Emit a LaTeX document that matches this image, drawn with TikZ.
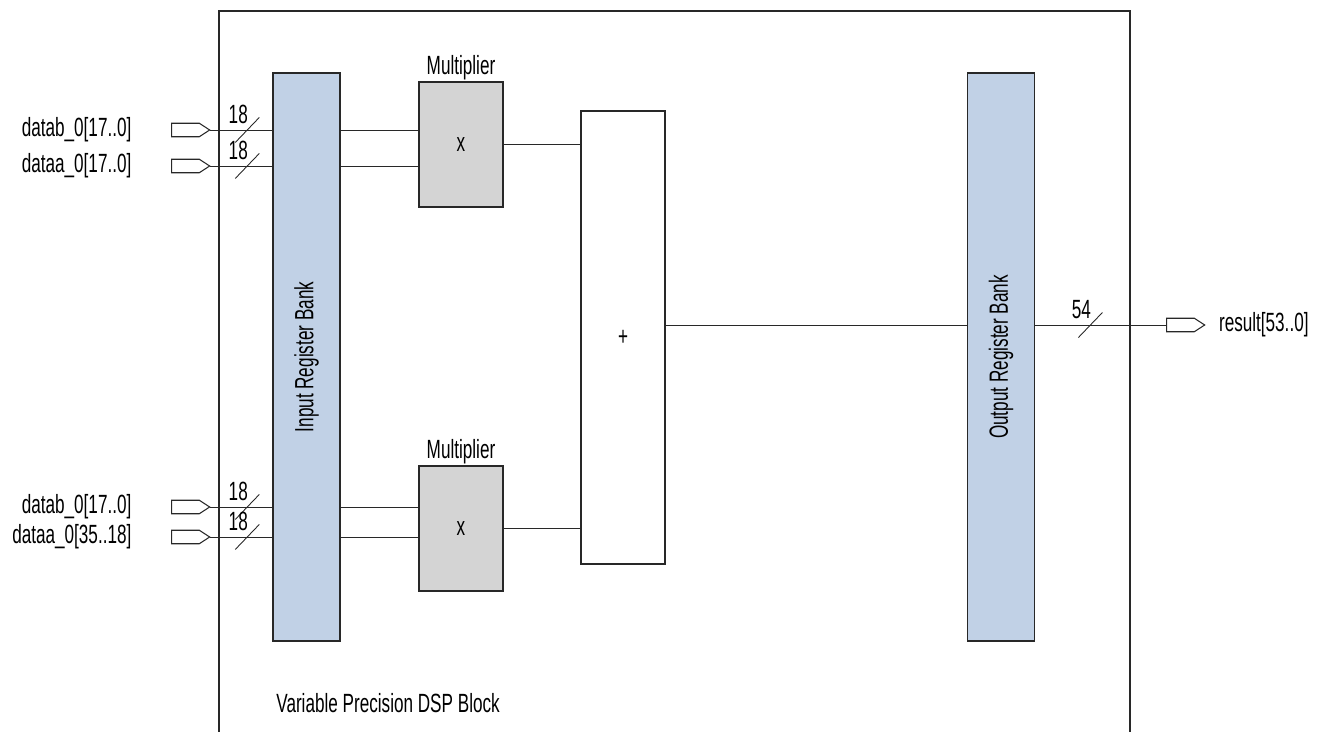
\documentclass[tikz,border=0pt]{standalone}
\usepackage{fontspec}
\setmainfont[FakeStretch=0.65]{Liberation Sans}
\usetikzlibrary{positioning,shapes.symbols}

\definecolor{bankblue}{RGB}{193,209,230}
\definecolor{mulgray}{RGB}{212,212,212}
\definecolor{linegray}{RGB}{40,40,40}

\begin{document}
\begin{tikzpicture}[
    x=0.02cm, y=-0.02cm,
    font=\fontsize{15}{17}\selectfont,
    bank/.style={draw=linegray, line width=0.8pt, fill=bankblue, minimum width=1.34cm, minimum height=11.36cm, inner sep=0pt},
    mul/.style={draw=linegray, line width=0.8pt, fill=mulgray, minimum width=1.68cm, minimum height=2.5cm, inner sep=0pt},
    adder/.style={draw=linegray, line width=0.8pt, fill=white, minimum width=1.68cm, minimum height=9.06cm, inner sep=0pt},
    pin/.style={draw=linegray, line width=0.6pt, signal, signal to=east, signal pointer angle=66, minimum width=0.76cm, minimum height=0.27cm, inner sep=0pt, outer sep=0pt},
    lbl/.style={inner sep=0pt},
    wire/.style={draw=linegray, line width=0.5pt},
    pics/bus/.style={code={
      \draw[wire] (-12,12.5) -- (12,-12.5);
      \node[lbl, anchor=base] at (-9,-6) {#1};
    }}
  ]
    \useasboundingbox (0,0) rectangle (1320,732);
    % block frame, open at the bottom
    \draw[draw=linegray, line width=0.8pt] (219,732) |- (1130,11) -- (1130,732);
    \node[lbl, anchor=west] (title) at (276,703) {Variable Precision DSP Block};

    % register banks, multipliers and adder
    \node[bank] (inb) at (306.5,357) {\rotatebox{90}{Input Register Bank}};
    \node[bank] (outb) at (1001,357) {\rotatebox{90}{Output Register Bank}};
    \node[mul] (m1) at (461,144.5) {x};
    \node[mul] (m2) at (461,528.5) {x};
    \node[lbl, above=0.02cm of m1] {Multiplier};
    \node[lbl, above=0.02cm of m2] {Multiplier};
    \node[adder] (add) at (623,337.5) {+};

    % input pins
    \node[pin] (pb1) at (185.5,130) {};
    \node[pin] (pa1) at (185.5,166) {};
    \node[pin] (pb2) at (185.5,507) {};
    \node[pin] (pa2) at (185.5,537) {};
    \node[lbl, left=0.8cm of pb1] {datab\_0[17..0]};
    \node[lbl, left=0.8cm of pa1] {dataa\_0[17..0]};
    \node[lbl, left=0.8cm of pb2] {datab\_0[17..0]};
    \node[lbl, left=0.8cm of pa2] {dataa\_0[35..18]};

    % output pin
    \node[pin] (pout) at (1180.5,325) {};
    \node[lbl, right=0.28cm of pout] {result[53..0]};

    % buses into the input bank
    \draw[wire] (pb1.east) -- coordinate[pos=0.6] (s1) (inb.west |- pb1);
    \draw[wire] (pa1.east) -- coordinate[pos=0.6] (s2) (inb.west |- pa1);
    \draw[wire] (pb2.east) -- coordinate[pos=0.6] (s3) (inb.west |- pb2);
    \draw[wire] (pa2.east) -- coordinate[pos=0.6] (s4) (inb.west |- pa2);
    \pic at (s1) {bus=18};
    \pic at (s2) {bus=18};
    \pic at (s3) {bus=18};
    \pic at (s4) {bus=18};

    % bank to multipliers
    \draw[wire] (inb.east |- pb1) -- (m1.west |- pb1);
    \draw[wire] (inb.east |- pa1) -- (m1.west |- pa1);
    \draw[wire] (inb.east |- pb2) -- (m2.west |- pb2);
    \draw[wire] (inb.east |- pa2) -- (m2.west |- pa2);

    % multipliers to adder, adder to output
    \draw[wire] (m1.east) -- (add.west |- m1.east);
    \draw[wire] (m2.east) -- (add.west |- m2.east);
    \draw[wire] (add.east |- pout) -- (outb.west |- pout);
    \draw[wire] (outb.east |- pout) -- coordinate[pos=0.42] (s5) (pout.west);
    \pic at (s5) {bus=54};
  \end{tikzpicture}
\end{document}
